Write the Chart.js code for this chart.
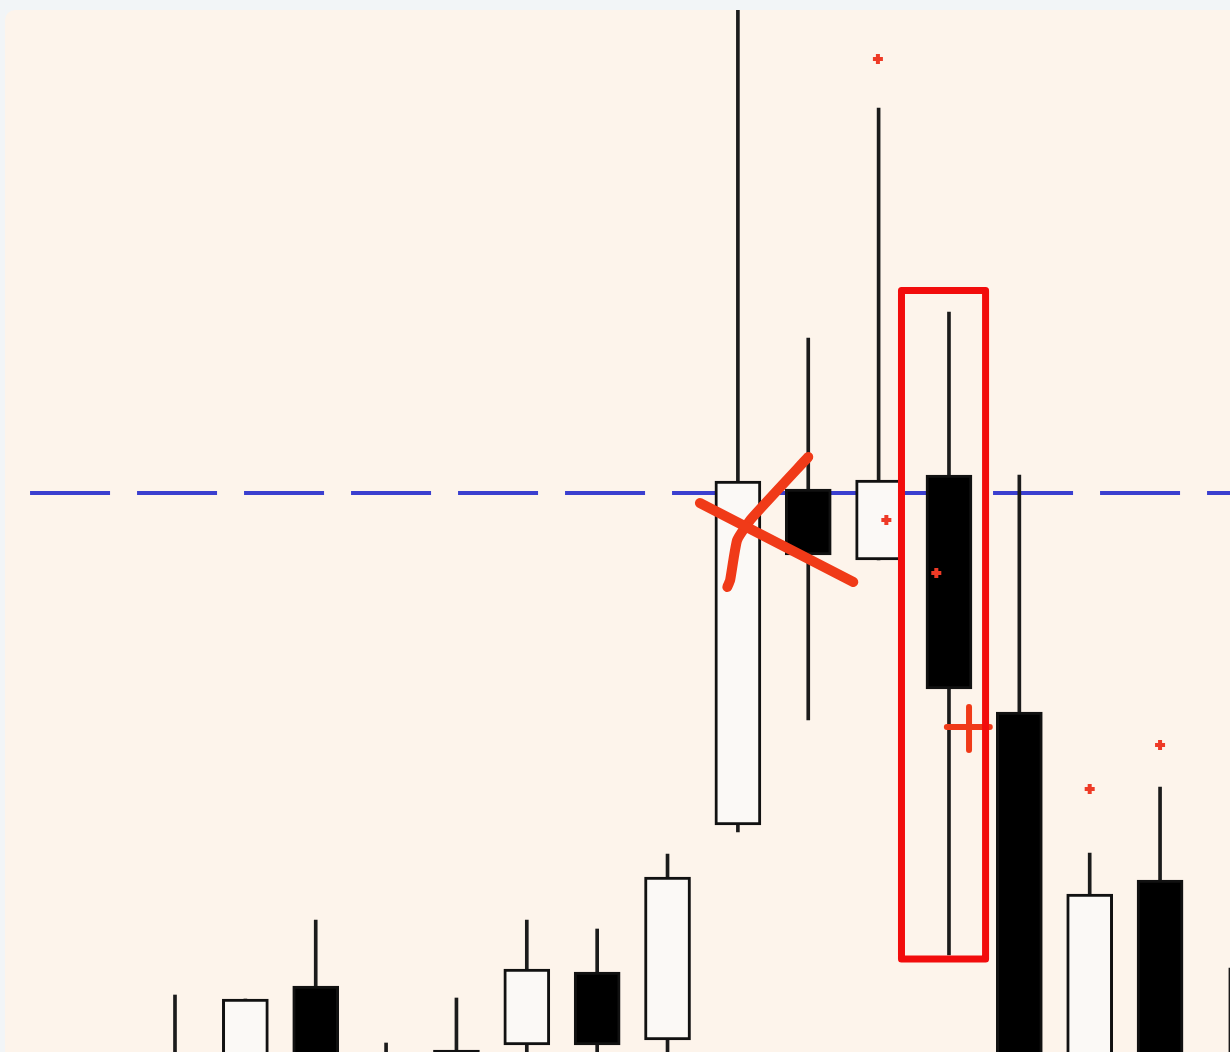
<!DOCTYPE html>
<html>
<head>
<meta charset="utf-8">
<script src="https://cdn.jsdelivr.net/npm/chart.js@4.4.1/dist/chart.umd.min.js"></script>
<style>
  html, body { margin: 0; padding: 0; background: #f2f5f7; overflow: hidden; }
  #panel {
    position: absolute; left: 5px; top: 10px; width: 1225px; height: 1042px;
    background: #fdf4eb; border-radius: 10px 0 0 0;
  }
</style>
</head>
<body>
<div id="panel"><canvas id="chart"></canvas></div>
<script>
// candle index on the x axis
const candleIdx = [0, 1, 2, 3, 4, 5, 6, 7, 8, 9, 10, 11, 12, 13, 14, 15]
const opens  = [-3, -3, 6.6, -3, -2, 0.7, 8.0, 1.2, 22.7, 56.3, 49.2, 57.7, 34.0, -2, 17.2, -2]
const closes = [-1, 5.3, -2, -1, 0.2, 8.3, 0.7, 17.5, 57.1, 49.7, 57.2, 36.3, -2, 15.8, -2, -4]
const highs  = [5.7, 5.3, 13.2, 0.9, 5.4, 13.2, 12.3, 19.8, 106, 71.4, 94.4, 74.0, 57.7, 19.9, 26.5, 8.4]
const lows   = [-5, -5, -4, -5, -4, -2, -2, -1, 22.0, 33.2, 49.2, 9.7, -4, -4, -4, -6]

// red marker dots [x, y]
const dotX = [9.99, 10.11, 10.82, 13.0, 14.0]
const dotY = [99.3, 53.2, 47.9, 26.3, 30.7]

// blue dashed level
const levelY = 55.9
const levelFrom = -2.06
const levelTo = 15

// red box around candle 11
const boxX = [10.325, 11.52]
const boxY = [9.3, 76.15]

// hand-drawn cross
const strokeAX = [7.46, 9.64]
const strokeAY = [54.9, 47.0]
const strokeBX = [9.0, 8.2, 7.99, 7.89, 7.85]
const strokeBY = [59.5, 53.4, 51.2, 47.2, 46.5]

// small plus mark
const plusX = [10.97, 11.58]
const plusY = [30.2, 34.5]
const plusCx = 11.285
const plusCy = 32.5

const up = candleIdx.map((i) => closes[i] >= opens[i])
const wickData = candleIdx.map((i) => ({ x: i, y: [lows[i], highs[i]] }))
const bodyData = candleIdx.map((i) => ({ x: i, y: [opens[i], closes[i]] }))

const red = '#f03a18'
const lineDs = (pts, color, width, extra) => Object.assign({
  type: 'line',
  data: pts,
  borderColor: color,
  borderWidth: width,
  pointRadius: 0,
  fill: false,
  borderCapStyle: 'round',
  borderJoinStyle: 'round',
  order: 0,
}, extra || {})

new Chart(document.getElementById('chart'), {
  type: 'bar',
  data: {
    datasets: [
      {
        data: wickData,
        backgroundColor: '#1b1b1b',
        barThickness: 3,
        grouped: false,
        order: 5,
      },
      {
        data: bodyData,
        backgroundColor: up.map((u) => (u ? '#fbf9f6' : '#000000')),
        borderColor: '#111111',
        borderWidth: 3,
        borderSkipped: false,
        barThickness: 46,
        grouped: false,
        order: 4,
      },
      lineDs([{ x: levelFrom, y: levelY }, { x: levelTo, y: levelY }], '#3b3fcf', 4,
        { borderDash: [80, 27], borderCapStyle: 'butt', order: 6 }),
      lineDs([
        { x: boxX[0], y: boxY[1] }, { x: boxX[1], y: boxY[1] },
        { x: boxX[1], y: boxY[0] }, { x: boxX[0], y: boxY[0] },
        { x: boxX[0], y: boxY[1] },
      ], '#f20c0c', 7),
      lineDs(strokeAX.map((x, k) => ({ x: x, y: strokeAY[k] })), red, 10),
      lineDs(strokeBX.map((x, k) => ({ x: x, y: strokeBY[k] })), red, 10, { tension: 0.15 }),
      lineDs([{ x: plusX[0], y: plusCy }, { x: plusX[1], y: plusCy }], red, 6),
      lineDs([{ x: plusCx, y: plusY[0] }, { x: plusCx, y: plusY[1] }], red, 6),
      {
        type: 'line',
        data: dotX.map((x, k) => ({ x: x, y: dotY[k] })),
        showLine: false,
        pointStyle: 'cross',
        pointRadius: 5,
        pointBorderWidth: 4,
        pointBorderColor: '#ee3a26',
        pointBackgroundColor: '#ee3a26',
        order: 0,
      },
    ],
  },
  options: {
    responsive: true,
    maintainAspectRatio: false,
    animation: false,
    layout: { padding: 0, autoPadding: false },
    plugins: { legend: { display: false }, tooltip: { enabled: false } },
    scales: {
      x: { type: 'linear', min: -2.416, max: 14.994, offset: false, display: false },
      y: { min: 0, max: 104.2, display: false },
    },
  },
})
</script>
</body>
</html>
